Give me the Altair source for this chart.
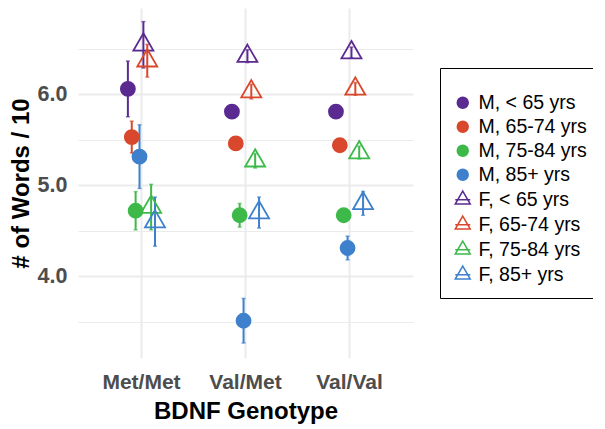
import altair as alt
import pandas as pd

genotypes = ["Met/Met", "Val/Met", "Val/Val"]
groups = ["M, < 65 yrs", "M, 65-74 yrs", "M, 75-84 yrs", "M, 85+ yrs",
          "F, < 65 yrs", "F, 65-74 yrs", "F, 75-84 yrs", "F, 85+ yrs"]
colors = ["#5B2A91", "#D9482C", "#3DB94A", "#3E80CC",
          "#5B2A91", "#D9482C", "#3DB94A", "#3E80CC"]
fills = ["#5B2A91", "#D9482C", "#3DB94A", "#3E80CC",
         "transparent", "transparent", "transparent", "transparent"]

mean_metmet = [6.06, 5.53, 4.72, 5.315, 6.545, 6.37, 4.76, 4.60]
mean_valmet = [5.81, 5.46, 4.67, 3.51, 6.42, 6.03, 5.27, 4.70]
mean_valval = [5.81, 5.44, 4.67, 4.31, 6.46, 6.06, 5.36, 4.80]
se_metmet = [0.306, 0.175, 0.21, 0.35, 0.255, 0.18, 0.25, 0.27]
se_valmet = [0.03, 0.05, 0.13, 0.245, 0.07, 0.08, 0.08, 0.17]
se_valval = [0.03, 0.04, 0.05, 0.13, 0.06, 0.07, 0.07, 0.13]

rows = []
for g, means, ses in zip(genotypes, [mean_metmet, mean_valmet, mean_valval],
                         [se_metmet, se_valmet, se_valval]):
    for grp, m, s in zip(groups, means, ses):
        rows.append({"genotype": g, "group": grp, "mean": m, "lo": m - s, "hi": m + s})
df = pd.DataFrame(rows)

tri = "M0,-1.155L1,0.577L-1,0.577Z"
circ_main = "M-0.7,0A0.7,0.7 0 1,0 0.7,0A0.7,0.7 0 1,0 -0.7,0Z"
circ_leg = "M-0.73,0A0.73,0.73 0 1,0 0.73,0A0.73,0.73 0 1,0 -0.73,0Z"
tri_leg = "M0,-1.155L1,0.577L-1,0.577Z M-1,0L1,0"
shapes_main = [circ_main] * 4 + [tri] * 4
shapes_leg = [circ_leg] * 4 + [tri_leg] * 4

FONT = "Liberation Sans"

x_enc = alt.X(
    "genotype:N",
    scale=alt.Scale(domain=genotypes, paddingInner=0, paddingOuter=0.11),
    axis=alt.Axis(
        title="BDNF Genotype", labelAngle=0, domain=False, ticks=False, tickSize=0,
        labelFontSize=21, labelFontWeight="bold", labelColor="#4D4D4D", labelFont=FONT,
        labelPadding=13, titleFontSize=24, titleFontWeight="bold", titleColor="black",
        titleFont=FONT, titlePadding=7.5, grid=True, gridColor="#EBEBEB", gridWidth=2,
    ),
)
xoff = alt.XOffset("group:N", scale=alt.Scale(domain=groups, range=[36.5, 67.5],
                                              paddingInner=0, paddingOuter=0))
y_scale = alt.Scale(domain=[3.1, 6.95], nice=False, zero=False)
y_axis = alt.Axis(
    title="# of Words / 10", values=[3.5, 4, 4.5, 5, 5.5, 6, 6.5],
    labelExpr="datum.value % 1 === 0 ? format(datum.value, '.1f') : ''",
    domain=False, ticks=False, tickSize=0,
    labelFontSize=21.5, labelFontWeight="bold", labelColor="#4D4D4D", labelFont=FONT,
    labelPadding=11, titleFontSize=24, titleFontWeight="bold", titleColor="black",
    titleFont=FONT, titlePadding=4, grid=True, gridColor="#EBEBEB",
    gridWidth={"condition": {"test": "datum.value % 1 === 0", "value": 2}, "value": 1.2},
)

base = alt.Chart(df)
col = alt.Color("group:N", scale=alt.Scale(domain=groups, range=colors), legend=None)

rules = base.mark_rule(strokeWidth=2).encode(
    x=x_enc, xOffset=xoff,
    y=alt.Y("lo:Q", scale=y_scale, axis=y_axis), y2="hi:Q", color=col)
cap_lo = base.mark_tick(size=4, thickness=1.5).encode(
    x=x_enc, xOffset=xoff, y=alt.Y("lo:Q", scale=y_scale), color=col)
cap_hi = base.mark_tick(size=4, thickness=1.5).encode(
    x=x_enc, xOffset=xoff, y=alt.Y("hi:Q", scale=y_scale), color=col)

points = base.mark_point(size=400, strokeWidth=1.8, opacity=1).encode(
    x=x_enc, xOffset=xoff, y=alt.Y("mean:Q", scale=y_scale),
    stroke=alt.Stroke("group:N", scale=alt.Scale(domain=groups, range=colors), legend=None),
    fill=alt.Fill("group:N", scale=alt.Scale(domain=groups, range=fills), legend=None),
    shape=alt.Shape("group:N", scale=alt.Scale(domain=groups, range=shapes_main), legend=None),
)

leg = alt.Legend(
    orient="none", legendX=362, legendY=60, title=" ", titleFontSize=7, titlePadding=5,
    padding=13, strokeColor="black", fillColor="white", cornerRadius=0,
    labelFontSize=19.5, labelFont=FONT, labelColor="black", labelOffset=6,
    symbolSize=225, symbolStrokeWidth=1.5, symbolOpacity=1, rowPadding=3,
    labelLimit=300,
)
legend_layer = base.mark_point(size=225, opacity=0).encode(
    x=x_enc, xOffset=xoff, y=alt.Y("mean:Q", scale=y_scale),
    stroke=alt.Stroke("group:N", scale=alt.Scale(domain=groups, range=colors), legend=leg),
    fill=alt.Fill("group:N", scale=alt.Scale(domain=groups, range=fills), legend=leg),
    shape=alt.Shape("group:N", scale=alt.Scale(domain=groups, range=shapes_leg), legend=leg),
)

chart = alt.layer(rules, cap_lo, cap_hi, points, legend_layer).resolve_scale(
    stroke="independent", fill="independent", shape="independent"
).properties(
    width=335, height=350,
    autosize=alt.AutoSizeParams(type="none"),
    padding={"left": 70, "top": 0, "right": 180, "bottom": 70},
).configure(background="white", view=alt.ViewConfig(stroke=None))

chart.save("out.html", embed_options={"renderer": "svg", "actions": False})
